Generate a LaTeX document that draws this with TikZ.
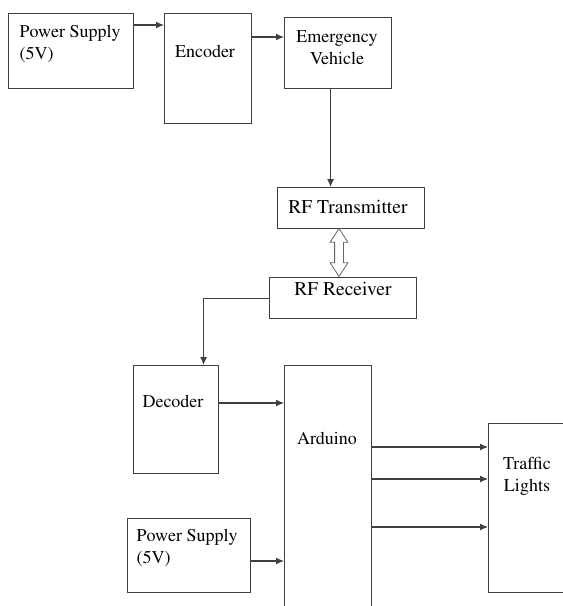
\documentclass[tikz,border=0pt]{standalone}
\usepackage[T1]{fontenc}
\usepackage{mathptmx}
\usetikzlibrary{arrows.meta,shapes.arrows}

\begin{document}
\begin{tikzpicture}[x=1pt, y=-1pt,
line width=1.1pt,
>={Latex[length=8pt,width=7pt]},
block/.style={draw=black!75, rectangle, anchor=north west, inner sep=0pt},
lbl/.style={inner sep=0pt, font=\fontsize{18}{22}\selectfont, align=center},
rflbl/.style={lbl, font=\fontsize{19.5}{23}\selectfont}]

\clip (0,0) rectangle (563,606);

% top row
\node[block, minimum width=125pt, minimum height=75pt]	(ps1) at (8,13)	{};
\node[block, minimum width=87pt, minimum height=110pt]	(enc) at (164,13)	{};
\node[block, minimum width=107pt, minimum height=71pt]	(ev) at (284,17)	{};
\node[lbl, anchor=north west, align=left]	(ps1t) at (19,25)	{Power Supply\\(5V)};
\node[lbl, anchor=north]	(enct) at (205,45)	{Encoder};
\node[lbl, anchor=north]	(evt) at (337,30)	{Emergency\\Vehicle};

% rf link
\node[block, minimum width=147pt, minimum height=41pt]	(tx) at (277,187)	{};
\node[block, minimum width=147pt, minimum height=41pt]	(rx) at (269,277)	{};
\node[rflbl, anchor=north]	(txt) at (348,200)	{RF Transmitter};
\node[rflbl, anchor=north]	(rxt) at (343,282)	{RF Receiver};
\node[double arrow, draw=black!60, fill=white, line width=0.8pt, rotate=90,
 minimum height=48pt, minimum width=17pt, inner sep=4pt,
 double arrow head extend=4.5pt, double arrow tip angle=66]	(link) at (339,252.5)	{};

% bottom part
\node[block, minimum width=85pt, minimum height=108pt]	(dec) at (133,365)	{};
\node[block, minimum width=87pt, minimum height=300pt]	(ard) at (284,365)	{};
\node[block, minimum width=123pt, minimum height=74pt]	(ps2) at (127,518)	{};
\node[block, minimum width=120pt, minimum height=169pt]	(tl) at (488,423)	{};
\node[lbl, anchor=north]	(dect) at (173,395)	{Decoder};
\node[lbl, anchor=north]	(ardt) at (327,432)	{Arduino};
\node[lbl, anchor=north west, align=left]	(ps2t) at (136,529)	{Power Supply\\(5V)};
\node[lbl, anchor=north]	(tlt) at (527,457)	{Traffic\\Lights};

\begin{scope}[draw=black!75]
\draw[->] ([yshift=-12pt]ps1.north east) -- ([yshift=-12pt]ps1.north east -| enc.west);
\draw[->] ([yshift=-24pt]enc.north east) -- ([yshift=-24pt]enc.north east -| ev.west);
\draw[->] ([xshift=-7.5pt]ev.south) -- ([xshift=-7.5pt]ev.south |- tx.north);
\draw[->] (rx.west) -| ([xshift=27.5pt]dec.north);
\draw[->] ([yshift=-38pt]dec.north east) -- ([yshift=-38pt]dec.north east -| ard.west);
\draw[->] ([yshift=-43pt]ps2.north east) -- ([yshift=-43pt]ps2.north east -| ard.west);
\foreach \dy in {82,114,162}
 \draw[->] ([yshift=-\dy pt]ard.north east) -- ([yshift=-\dy pt]ard.north east -| tl.west);
\end{scope}

\end{tikzpicture}
\end{document}
